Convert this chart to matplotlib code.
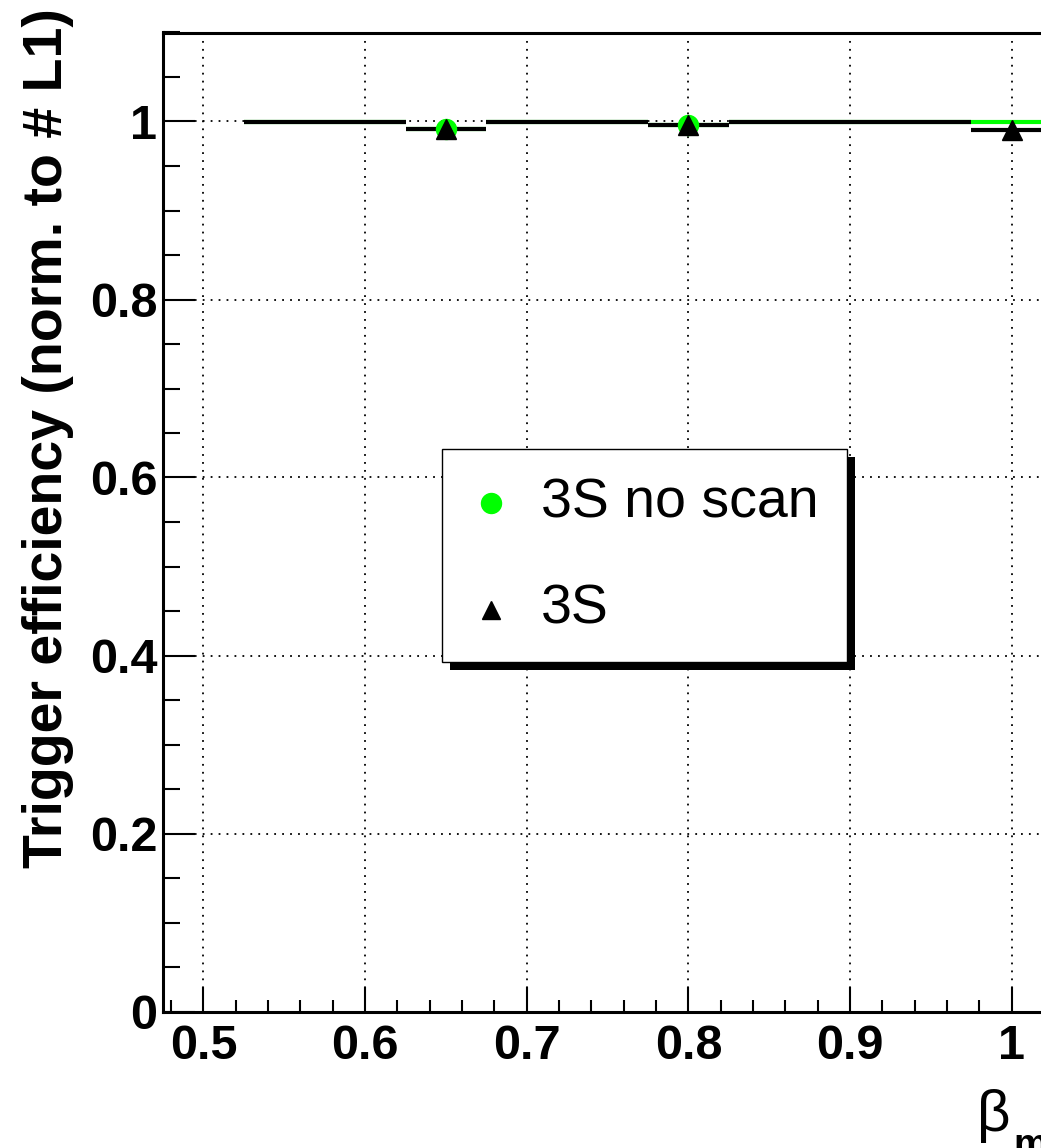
import matplotlib
matplotlib.use("Agg")
import matplotlib.pyplot as plt
from matplotlib.lines import Line2D
from matplotlib.patches import Rectangle
from matplotlib.ticker import MultipleLocator, FuncFormatter

plt.rcParams["font.family"] = ["Liberation Sans", "DejaVu Sans"]
plt.rcParams["font.weight"] = "bold"

# beta bins (lower / upper edge) and efficiencies per bin
bin_lo = [0.525, 0.625, 0.675, 0.775, 0.825, 0.975]
bin_hi = [0.625, 0.675, 0.775, 0.825, 0.975, 1.025]
eff_noscan = [1.0, 0.992, 1.0, 0.996, 1.0, 1.0]
eff_3s = [1.0, 0.992, 1.0, 0.996, 1.0, 0.991]

# measured points drawn with markers
beta_noscan = [0.65, 0.80]
pts_noscan = [0.992, 0.996]
beta_3s = [0.65, 0.80, 1.00]
pts_3s = [0.992, 0.996, 0.991]

labels = ["3S no scan", "3S"]
GREEN = "#00ff00"

W, H = 1041, 1148
fig = plt.figure(figsize=(W / 100, H / 100), dpi=100)


def fx(x):
    return x / W


def fy(y):
    return 1 - y / H


# axes run past the right edge of the picture (cropped plot)
ax = fig.add_axes([fx(163), fy(1011.5), (1133 - 163) / W, (1011.5 - 32.5) / H])
ax.set_xlim(0.475, 1.075)
ax.set_ylim(0, 1.1)

ax.set_axisbelow(True)
ax.grid(True, which="major", color="black", linestyle=(0, (1, 3.4)), linewidth=1.3)

ax.hlines(eff_noscan, bin_lo, bin_hi, colors=GREEN, linewidth=3, zorder=2)
ax.hlines(eff_3s, bin_lo, bin_hi, colors="black", linewidth=3, zorder=3)
ax.plot(beta_noscan, pts_noscan, "o", ms=14.4, color=GREEN, mec=GREEN, zorder=4)
ax.plot(beta_3s, pts_3s, "^", ms=14.4, color="black", zorder=5)

ax.xaxis.set_major_locator(MultipleLocator(0.1))
ax.xaxis.set_minor_locator(MultipleLocator(0.02))
ax.yaxis.set_major_locator(MultipleLocator(0.2))
ax.yaxis.set_minor_locator(MultipleLocator(0.05))
fmt = FuncFormatter(lambda v, _: f"{v:.1f}".rstrip("0").rstrip("."))
ax.xaxis.set_major_formatter(fmt)
ax.yaxis.set_major_formatter(fmt)

ax.tick_params(axis="x", which="major", direction="in", length=18, width=1.5,
               pad=9, labelsize=35)
ax.tick_params(axis="x", which="minor", direction="in", length=8.6, width=1.5)
ax.tick_params(axis="y", which="major", direction="in", length=23, width=1.5,
               pad=4, labelsize=35)
ax.tick_params(axis="y", which="minor", direction="in", length=12, width=1.5)
ax.tick_params(top=False, right=False, which="both")
for spine in ax.spines.values():
    spine.set_linewidth(2.2)

# axis titles, ROOT style (aligned to the axis end)
fig.text(fx(62), fy(8), "Trigger efficiency (norm. to # L1)", fontsize=40,
         rotation=90, rotation_mode="anchor", ha="right", va="baseline")
fig.text(fx(977), fy(1131), "β", fontsize=42, fontweight="normal",
         ha="left", va="baseline")
fig.text(fx(1013), fy(1156), "mono", fontsize=28, ha="left", va="baseline")

# legend box with hard shadow
bx0, by0, bx1, by1 = 442, 449, 847, 662
fig.add_artist(Rectangle((fx(bx0 + 8), fy(by1 + 8)), (bx1 - bx0) / W, (by1 - by0) / H,
                         transform=fig.transFigure, facecolor="black",
                         edgecolor="none", zorder=5))
fig.add_artist(Rectangle((fx(bx0), fy(by1)), (bx1 - bx0) / W, (by1 - by0) / H,
                         transform=fig.transFigure, facecolor="white",
                         edgecolor="black", linewidth=1.0, zorder=6))
fig.add_artist(Line2D([fx(491)], [fy(503)], marker="o", ms=14.4, color=GREEN,
                      transform=fig.transFigure, zorder=7))
fig.add_artist(Line2D([fx(491)], [fy(610)], marker="^", ms=13, color="black",
                      transform=fig.transFigure, zorder=7))
fig.text(fx(541), fy(517), labels[0], fontsize=40, fontweight="normal",
         va="baseline", zorder=7)
fig.text(fx(541), fy(623), labels[1], fontsize=40, fontweight="normal",
         va="baseline", zorder=7)

fig.savefig("out.png", dpi=100)
